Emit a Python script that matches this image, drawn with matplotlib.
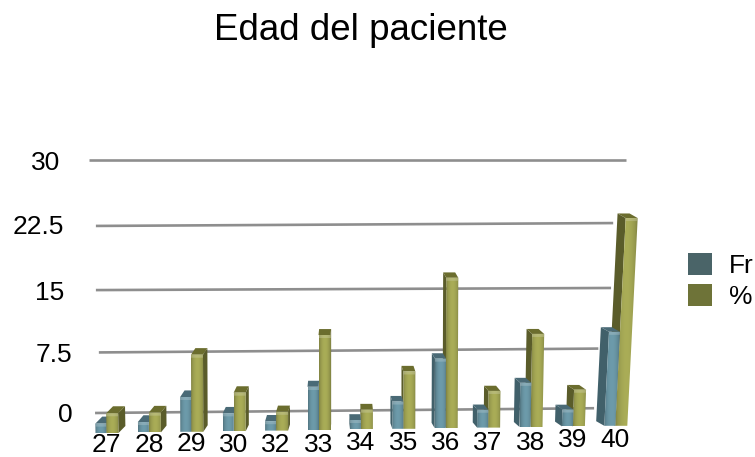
import numpy as np
import matplotlib
matplotlib.use('Agg')
import matplotlib.pyplot as plt
from matplotlib.colors import to_rgb
from matplotlib.patches import Patch, Polygon
from matplotlib.transforms import Affine2D

ages = ['27', '28', '29', '30', '32', '33', '34', '35', '36', '37', '38', '39', '40']
fr = [1.0, 1.1, 3.7, 1.9, 1.0, 4.6, 1.0, 2.9, 7.4, 1.9, 4.7, 1.8, 10.0]
pct = [2.1, 2.1, 8.2, 4.1, 2.0, 10.1, 2.1, 6.1, 16.0, 3.9, 9.9, 3.9, 22.1]
series = ['Fr', '%']
grid_values = [0, 7.5, 15, 22.5, 30]
grid_labels = ['0', '7.5', '15', '22.5', '30']

plt.rcParams['font.family'] = 'Liberation Sans'

W, H = 755, 457
PX_X = 42.4    # pixels per category
PX_Y = 9.4     # pixels per unit on the front plane
LEFT, RIGHT = 85, 640

fig = plt.figure(figsize=(W / 100, H / 100), dpi=100)
fig.patch.set_facecolor('white')


def bbox(bottom, top):
    return [LEFT / W, 1 - bottom / H, (RIGHT - LEFT) / W, (bottom - top) / H]


xlim = ((LEFT - 106.5) / PX_X, (RIGHT - 106.5) / PX_X)

# back wall: the value axis and its slightly converging grid lines
back = fig.add_axes(bbox(413, 160))
back.set_yscale('function', functions=(lambda v: v + 0.002 * v ** 2,
                                       lambda y: (np.sqrt(1 + 0.008 * np.maximum(y, -100)) - 1) / 0.004))
back.set_xlim(xlim)
back.set_ylim(0, 30)
back.patch.set_visible(False)
for s in back.spines.values():
    s.set_visible(False)
back.set_xticks([])
back.set_yticks(grid_values)
back.set_yticklabels(grid_labels, fontsize=19)
back.minorticks_off()
back.tick_params(axis='y', length=0, pad=0)
for lab, dx, dy in zip(back.get_yticklabels(), [-12, -13, -21, -21, -25], [1, 0, 0, 1, -1]):
    lab.set_transform(lab.get_transform() + Affine2D().translate(dx, dy))

grid_ends = [(-0.27, 11.5, 0.6), (-0.18, 11.6, 0.47), (-0.25, 11.9, 0.25),
             (-0.25, 11.95, 0.33), (-0.41, 12.25, 0.0)]
for v, (x0, x1, rise) in zip(grid_values, grid_ends):
    back.plot([x0, x1], [v, v + rise], color='#8e8e8e', lw=1.9, clip_on=False, solid_capstyle='butt')

# front plane: the bars
ax = fig.add_axes(bbox(433, 160))
ax.patch.set_visible(False)
for s in ax.spines.values():
    s.set_visible(False)
ax.set_yticks([])
ax.set_xticks(range(len(ages)))
ax.set_xticklabels(ages, fontsize=19)
ax.tick_params(axis='x', length=0, pad=0)
label_shift = [0, 0, 1, 0, 0, 0, 2, 2, 2, 2, 2, 5, 5]
for lab, dy in zip(ax.get_xticklabels(), label_shift):
    lab.set_transform(lab.get_transform() + Affine2D().translate(0, dy))


def lean(i):
    return 0.05 * ((i - 5) / 7) ** 3


def corner(i, off, v, depth=0.0):
    # off is the horizontal offset from the category centre, in pixels
    x = off + lean(i) * v * PX_Y + depth * -1.25 * (i - 5.5)
    y = v + (0.6 * i + depth * (7 - 0.2 * i)) / PX_Y
    return i + x / PX_X, y


def draw_bar(i, v, off0, off1, base, side, top, zorder):
    front = [corner(i, off0, 0), corner(i, off1, 0), corner(i, off1, v), corner(i, off0, v)]
    lid = [corner(i, off0, v), corner(i, off1, v), corner(i, off1, v, 1), corner(i, off0, v, 1)]
    edge = off1 if i < 6 else off0
    wall = [corner(i, edge, 0), corner(i, edge, v), corner(i, edge, v, 1), corner(i, edge, 0, 1)]
    ax.add_patch(Polygon(wall, closed=True, fc=side, ec='none', zorder=zorder))
    ax.add_patch(Polygon(lid, closed=True, fc=top, ec='none', zorder=zorder))

    # rounded look on the front face
    c = np.array(to_rgb(base))
    t = np.linspace(0, 1, 16)
    shade = 0.84 + 0.26 * np.sin(np.pi * t) ** 0.7
    img = np.clip(c[None, None, :] * shade[None, :, None], 0, 1)
    xs = [p[0] for p in front]
    ys = [p[1] for p in front]
    im = ax.imshow(img, extent=(min(xs), max(xs), min(ys), max(ys)), aspect='auto',
                   interpolation='bilinear', zorder=zorder)
    im.set_clip_path(Polygon(front, closed=True, transform=ax.transData))

    # lighter bevel along the top edge
    rim = 3 / PX_Y
    bevel = [corner(i, off0, v - rim), corner(i, off1, v - rim), corner(i, off1, v), corner(i, off0, v)]
    ax.add_patch(Polygon(bevel, closed=True, fc=c * 0.5 + 0.5, ec='none', alpha=0.4, zorder=zorder))


fr_style = ('#638d9b', '#41606a', '#4a6a76')
pct_style = ('#9a9d4f', '#5a5c2a', '#6b6d2e')
for i in range(len(ages)):
    # the bar nearer the middle of the chart goes behind its neighbour's side wall
    order = [0, 1] if i < 6 else [1, 0]
    for k in order:
        if k == 0:
            draw_bar(i, fr[i], -11, 0, *fr_style, zorder=3 + i * 0.1 + (0.01 if i >= 6 else 0))
        else:
            draw_bar(i, pct[i], 0, 12, *pct_style, zorder=3 + i * 0.1 + (0.01 if i < 6 else 0))

ax.set_xlim(xlim)
ax.set_ylim(0, (433 - 160) / PX_Y)

handles = [Patch(fc='#4a6468', ec='none'), Patch(fc='#6e7338', ec='none')]
fig.legend(handles, series, loc='upper left', bbox_to_anchor=(688 / W, 1 - 253 / H),
           frameon=False, fontsize=19, borderpad=0, borderaxespad=0, handlelength=0.91,
           handleheight=0.91, labelspacing=0.22, handletextpad=0.65)

fig.text(361 / W, 1 - 31 / H, 'Edad del paciente', fontsize=26.5, ha='center', va='center')

fig.savefig('out.png', dpi=100)
